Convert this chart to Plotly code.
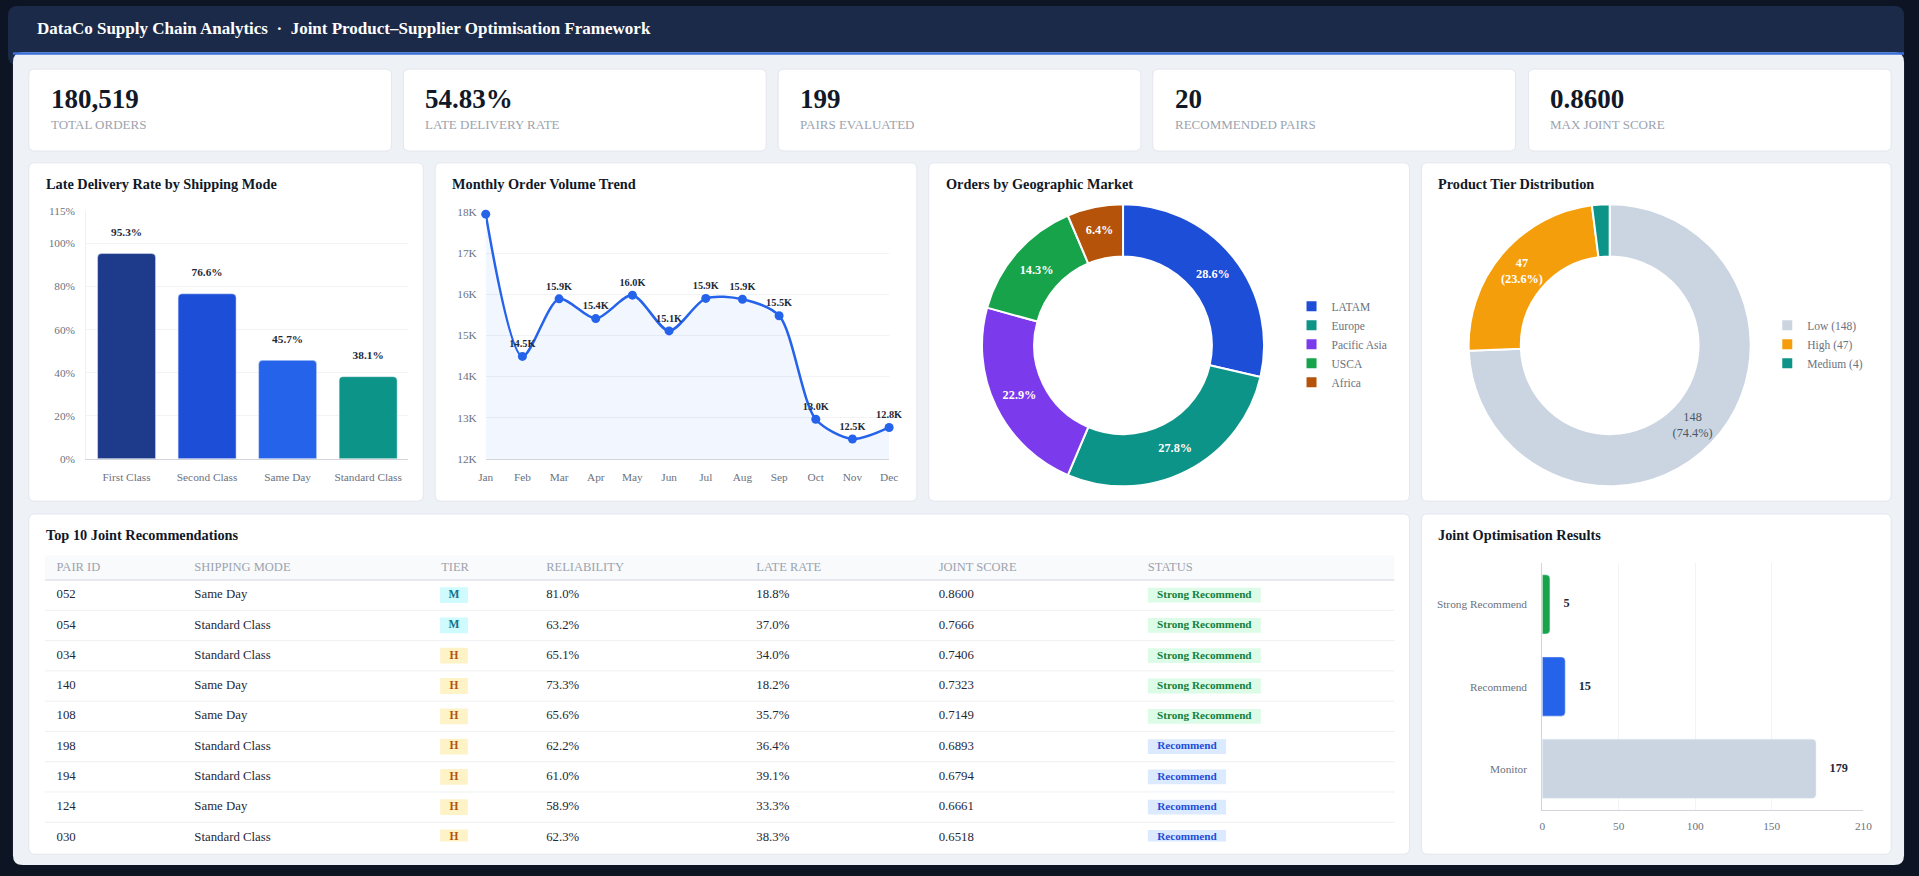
import plotly.graph_objects as go

W, H = 1919, 876
FONT = "Liberation Serif"

# ---- data ----
kpi_values = ["180,519", "54.83%", "199", "20", "0.8600"]
kpi_labels = ["TOTAL ORDERS", "LATE DELIVERY RATE", "PAIRS EVALUATED", "RECOMMENDED PAIRS", "MAX JOINT SCORE"]

ship_modes = ["First Class", "Second Class", "Same Day", "Standard Class"]
late_rates = [95.3, 76.6, 45.7, 38.1]

months = ["Jan", "Feb", "Mar", "Apr", "May", "Jun", "Jul", "Aug", "Sep", "Oct", "Nov", "Dec"]
monthly_orders = [17950, 14490, 15890, 15410, 15980, 15110, 15900, 15880, 15480, 12960, 12480, 12760]

markets = ["LATAM", "Europe", "Pacific Asia", "USCA", "Africa"]
market_share = [28.6, 27.8, 22.9, 14.3, 6.4]

tiers = ["Low", "High", "Medium"]
tier_counts = [148, 47, 4]

result_labels = ["Strong Recommend", "Recommend", "Monitor"]
result_counts = [5, 15, 179]

pair_ids = ["052", "054", "034", "140", "108", "198", "194", "124", "030"]
pair_modes = ["Same Day", "Standard Class", "Standard Class", "Same Day", "Same Day",
              "Standard Class", "Standard Class", "Same Day", "Standard Class"]
pair_tiers = ["M", "M", "H", "H", "H", "H", "H", "H", "H"]
pair_reliability = [81.0, 63.2, 65.1, 73.3, 65.6, 62.2, 61.0, 58.9, 62.3]
pair_late = [18.8, 37.0, 34.0, 18.2, 35.7, 36.4, 39.1, 33.3, 38.3]
pair_score = [0.8600, 0.7666, 0.7406, 0.7323, 0.7149, 0.6893, 0.6794, 0.6661, 0.6518]
pair_status = ["Strong Recommend"] * 5 + ["Recommend"] * 4


def fx(x):
    return x / W


def fy(y):
    return 1 - y / H


def rrect(x0, y0, x1, y1, r, fill, line="rgba(0,0,0,0)"):
    p = (f"M {fx(x0+r)},{fy(y0)} L {fx(x1-r)},{fy(y0)} Q {fx(x1)},{fy(y0)} {fx(x1)},{fy(y0+r)} "
         f"L {fx(x1)},{fy(y1-r)} Q {fx(x1)},{fy(y1)} {fx(x1-r)},{fy(y1)} "
         f"L {fx(x0+r)},{fy(y1)} Q {fx(x0)},{fy(y1)} {fx(x0)},{fy(y1-r)} "
         f"L {fx(x0)},{fy(y0+r)} Q {fx(x0)},{fy(y0)} {fx(x0+r)},{fy(y0)} Z")
    return dict(type="path", path=p, xref="paper", yref="paper", fillcolor=fill,
                line=dict(color=line, width=1), layer="below")


def dom_x(a, b):
    return [fx(a), fx(b)]


def dom_y(a, b):
    return [fy(b), fy(a)]


fig = go.Figure()
shapes = []
annotations = []

# frame, header, body
shapes.append(rrect(0, 0, 1913, 60, 10, "#1c2a4a"))
shapes.append(rrect(5, 47, 1913, 871, 10, "#eef1f5"))
shapes.append(dict(type="rect", xref="paper", yref="paper", x0=fx(5), x1=fx(1913), y0=fy(49.5), y1=fy(47),
                   fillcolor="#3b6fd9", line=dict(width=0), layer="below"))
annotations.append(dict(x=fx(27), y=fy(23), xref="paper", yref="paper", xanchor="left", yanchor="middle",
                        showarrow=False,
                        text="<b>DataCo Supply Chain Analytics\u00a0\u00a0·\u00a0\u00a0Joint Product–Supplier Optimisation Framework</b>",
                        font=dict(family=FONT, size=17, color="#ffffff")))

# KPI cards
kx = [21, 399, 777, 1155, 1534]
for i, (v, lab) in enumerate(zip(kpi_values, kpi_labels)):
    x0 = kx[i]
    shapes.append(rrect(x0, 64, x0 + 366, 147, 6, "#ffffff", "#e3e7ec"))
    annotations.append(dict(x=fx(x0 + 20), y=fy(94), xref="paper", yref="paper", xanchor="left", yanchor="middle",
                            showarrow=False, text=f"<b>{v}</b>", font=dict(family=FONT, size=27, color="#111827")))
    annotations.append(dict(x=fx(x0 + 20), y=fy(120), xref="paper", yref="paper", xanchor="left", yanchor="middle",
                            showarrow=False, text=lab, font=dict(family=FONT, size=13, color="#9ca3af")))

# chart cards
cards = [(21, 159, 419, 502, "Late Delivery Rate by Shipping Mode"),
         (431, 159, 917, 502, "Monthly Order Volume Trend"),
         (929, 159, 1414, 502, "Orders by Geographic Market"),
         (1426, 159, 1900, 502, "Product Tier Distribution"),
         (21, 515, 1414, 860, "Top 10 Joint Recommendations"),
         (1426, 515, 1900, 860, "Joint Optimisation Results")]
for x0, y0, x1, y1, t in cards:
    shapes.append(rrect(x0, y0, x1, y1, 6, "#ffffff", "#e3e7ec"))
    annotations.append(dict(x=fx(x0 + 15), y=fy(y0 + 21), xref="paper", yref="paper", xanchor="left",
                            yanchor="middle", showarrow=False, text=f"<b>{t}</b>",
                            font=dict(family=FONT, size=14.3, color="#111827")))

# 1. late delivery by shipping mode
fig.add_trace(go.Bar(x=ship_modes, y=late_rates, xaxis="x", yaxis="y",
                     marker=dict(color=["#1e3a8a", "#1d4ed8", "#2563eb", "#0d9488"], cornerradius=4),
                     width=0.72, showlegend=False, hoverinfo="skip"))
fig.add_trace(go.Scatter(x=ship_modes, y=late_rates, xaxis="x", yaxis="y", mode="markers+text",
                         marker=dict(size=22, color="rgba(0,0,0,0)"),
                         text=[f"<b>{v}%</b>" for v in late_rates], textposition="top center",
                         textfont=dict(family=FONT, size=11.3, color="#1f2937"), cliponaxis=False,
                         showlegend=False, hoverinfo="skip"))

# 2. monthly trend
fig.add_trace(go.Scatter(x=list(range(len(months))), y=monthly_orders, xaxis="x2", yaxis="y2",
                         mode="lines+markers+text", line=dict(color="#2563eb", width=2.5, shape="spline", smoothing=0.8),
                         marker=dict(size=9, color="#2563eb"), fill="tozeroy", fillcolor="rgba(37,99,235,0.06)",
                         text=[""] + [f"<b>{v/1000:.1f}K</b>" for v in monthly_orders[1:]],
                         textposition="top center", textfont=dict(family=FONT, size=10.3, color="#1f2937"),
                         cliponaxis=False, showlegend=False, hoverinfo="skip"))

# 3. geographic market donut
fig.add_trace(go.Pie(labels=markets, values=market_share, hole=0.63, sort=False, direction="clockwise",
                     rotation=0, domain=dict(x=dom_x(982, 1268), y=dom_y(201, 487)),
                     marker=dict(colors=["#1d4ed8", "#0d9488", "#7c3aed", "#16a34a", "#b45309"],
                                 line=dict(color="#ffffff", width=2)),
                     texttemplate="<b>%{value:.1f}%</b>", textposition="inside",
                     insidetextorientation="horizontal",
                     textfont=dict(family=FONT, size=12.3, color="#ffffff"), legend="legend",
                     hoverinfo="skip"))

# 4. product tier donut
fig.add_trace(go.Pie(labels=[f"{t} ({c})" for t, c in zip(tiers, tier_counts)], values=tier_counts, hole=0.63,
                     sort=False, direction="clockwise", rotation=0,
                     domain=dict(x=dom_x(1473, 1759), y=dom_y(201, 487)),
                     marker=dict(colors=["#cbd5e1", "#f59e0b", "#0d9488"], line=dict(color="#ffffff", width=2)),
                     texttemplate=["%{value}<br>(%{percent:.1%})", "<b>%{value}<br>(%{percent:.1%})</b>", ""],
                     textposition="inside", insidetextorientation="horizontal",
                     textfont=dict(family=FONT, size=12.3, color=["#4b5563", "#ffffff", "#ffffff"]),
                     legend="legend2", hoverinfo="skip"))

# 5. joint optimisation results
fig.add_trace(go.Bar(y=result_labels, x=result_counts, orientation="h", xaxis="x4", yaxis="y4",
                     marker=dict(color=["#16a34a", "#2563eb", "#cbd5e1"], cornerradius=4),
                     width=0.72, showlegend=False, hoverinfo="skip"))
fig.add_trace(go.Scatter(y=result_labels, x=result_counts, xaxis="x4", yaxis="y4", mode="markers+text",
                         marker=dict(size=20, color="rgba(0,0,0,0)"),
                         text=[f"<b>{v}</b>" for v in result_counts], textposition="middle right",
                         textfont=dict(family=FONT, size=12.3, color="#1f2937"), cliponaxis=False,
                         showlegend=False, hoverinfo="skip"))

# 6. table (x/y in page pixels, clipped to the table box)
TX0, TX1, TY0, TY1 = 37, 1399, 557, 847
HEAD_H, ROW_H = 25, 30.7
col_x = [49, 188, 437, 543, 755, 939, 1150]
headers = ["PAIR ID", "SHIPPING MODE", "TIER", "RELIABILITY", "LATE RATE", "JOINT SCORE", "STATUS"]
row_y = [TY0 + HEAD_H + ROW_H / 2 + i * ROW_H for i in range(len(pair_ids))]

shapes.append(dict(type="rect", xref="x3", yref="y3", x0=TX0, x1=TX1, y0=TY0, y1=TY0 + HEAD_H,
                   fillcolor="#f8fafc", line=dict(width=0), layer="below"))
shapes.append(dict(type="line", xref="x3", yref="y3", x0=TX0, x1=TX1, y0=TY0 + HEAD_H, y1=TY0 + HEAD_H,
                   line=dict(color="#dfe3e8", width=1.5)))
for i in range(len(pair_ids)):
    yb = TY0 + HEAD_H + (i + 1) * ROW_H
    shapes.append(dict(type="line", xref="x3", yref="y3", x0=TX0, x1=TX1, y0=yb, y1=yb,
                       line=dict(color="#eef0f3", width=1)))

fig.add_trace(go.Scatter(x=col_x, y=[TY0 + HEAD_H / 2] * len(headers), text=headers, mode="text",
                         textposition="middle right", textfont=dict(family=FONT, size=12.5, color="#9ca3af"),
                         xaxis="x3", yaxis="y3", showlegend=False, hoverinfo="skip"))

body_cols = [pair_ids, pair_modes, None, [f"{v:.1f}%" for v in pair_reliability],
             [f"{v:.1f}%" for v in pair_late], [f"{v:.4f}" for v in pair_score], None]
for cx, vals in zip(col_x, body_cols):
    if vals is None:
        continue
    fig.add_trace(go.Scatter(x=[cx] * len(vals), y=row_y, text=vals, mode="text", textposition="middle right",
                             textfont=dict(family=FONT, size=12.8, color="#1f2937"), xaxis="x3", yaxis="y3",
                             showlegend=False, hoverinfo="skip"))

tier_style = {"M": ("#cffafe", "#0e7490"), "H": ("#fef3c7", "#b45309")}
status_style = {"Strong Recommend": ("#dcfce7", "#15803d", 114), "Recommend": ("#dbeafe", "#1d4ed8", 79)}
for yc, t, s in zip(row_y, pair_tiers, pair_status):
    bg, _ = tier_style[t]
    shapes.append(dict(type="rect", xref="x3", yref="y3", x0=col_x[2] - 1, x1=col_x[2] + 27, y0=yc - 8, y1=yc + 8,
                       fillcolor=bg, line=dict(width=0), layer="below"))
    bg, _, w = status_style[s]
    shapes.append(dict(type="rect", xref="x3", yref="y3", x0=col_x[6], x1=col_x[6] + w, y0=yc - 7.5, y1=yc + 7.5,
                       fillcolor=bg, line=dict(width=0), layer="below"))
fig.add_trace(go.Scatter(x=[col_x[2] + 13] * len(pair_tiers), y=row_y, text=[f"<b>{t}</b>" for t in pair_tiers],
                         mode="text", textposition="middle center",
                         textfont=dict(family=FONT, size=11.5, color=[tier_style[t][1] for t in pair_tiers]),
                         xaxis="x3", yaxis="y3", showlegend=False, hoverinfo="skip"))
fig.add_trace(go.Scatter(x=[col_x[6] + status_style[s][2] / 2 for s in pair_status], y=row_y,
                         text=[f"<b>{s}</b>" for s in pair_status], mode="text", textposition="middle center",
                         textfont=dict(family=FONT, size=11.2, color=[status_style[s][1] for s in pair_status]),
                         xaxis="x3", yaxis="y3", showlegend=False, hoverinfo="skip"))

tick_font = dict(family=FONT, size=11.3, color="#6b7280")
grid = "#f1f3f5"
pct_ticks = [0, 20, 40, 60, 80, 100, 115]

fig.update_layout(
    width=W, height=H, margin=dict(l=0, r=0, t=0, b=0),
    paper_bgcolor="#0d1424", plot_bgcolor="rgba(0,0,0,0)",
    font=dict(family=FONT), shapes=shapes, annotations=annotations,
    xaxis=dict(domain=dom_x(79, 404), anchor="y", tickfont=tick_font, showline=True, linecolor="#d1d5db",
               ticklabelstandoff=8, fixedrange=True),
    yaxis=dict(domain=dom_y(208, 459), anchor="x", range=[0, 115], tickvals=pct_ticks,
               ticktext=[f"{v}%" for v in pct_ticks], tickfont=tick_font, gridcolor=grid, zeroline=False,
               showline=True, linecolor="#eef0f3", ticklabelstandoff=8, fixedrange=True),
    xaxis2=dict(domain=dom_x(482, 889), anchor="y2", range=[0, 11], tickvals=list(range(len(months))),
                ticktext=months, tickfont=tick_font, showline=True, linecolor="#d1d5db", showgrid=False,
                zeroline=False, ticklabelstandoff=8, fixedrange=True),
    yaxis2=dict(domain=dom_y(209, 459), anchor="x2", range=[12000, 18000],
                tickvals=list(range(12000, 18001, 1000)),
                ticktext=[f"{v // 1000}K" for v in range(12000, 18001, 1000)], tickfont=tick_font,
                gridcolor=grid, zeroline=False, ticklabelstandoff=8, fixedrange=True),
    xaxis3=dict(domain=dom_x(TX0, TX1), anchor="y3", range=[TX0, TX1], visible=False, fixedrange=True),
    yaxis3=dict(domain=dom_y(TY0, TY1), anchor="x3", range=[TY1, TY0], visible=False, fixedrange=True),
    xaxis4=dict(domain=dom_x(1548, 1872), anchor="y4", range=[0, 210], tickvals=[0, 50, 100, 150, 210],
                tickfont=tick_font, gridcolor=grid, showline=True, linecolor="#d1d5db", zeroline=False,
                ticklabelstandoff=6, fixedrange=True),
    yaxis4=dict(domain=dom_y(565, 815), anchor="x4", categoryorder="array", categoryarray=result_labels[::-1],
                tickfont=tick_font, showline=True, linecolor="#d1d5db", ticklabelstandoff=12, fixedrange=True),
    legend=dict(x=fx(1295), y=fy(343), xanchor="left", yanchor="middle", bgcolor="rgba(0,0,0,0)",
                font=dict(family=FONT, size=11.5, color="#6b7280"), itemclick=False),
    legend2=dict(x=fx(1775), y=fy(343), xanchor="left", yanchor="middle", bgcolor="rgba(0,0,0,0)",
                 font=dict(family=FONT, size=11.5, color="#6b7280"), itemclick=False),
)

page_js = "document.body.style.margin='0';document.body.style.overflow='hidden';"
fig.write_html("out.html", config={"displayModeBar": False}, post_script=page_js)
